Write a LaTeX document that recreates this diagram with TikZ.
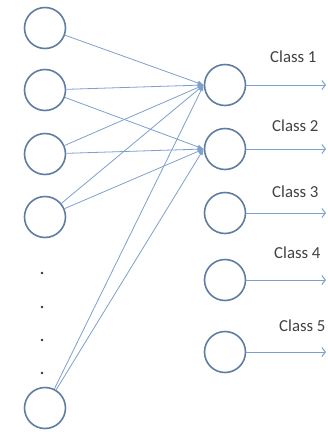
\documentclass[tikz,border=0pt]{standalone}
\usepackage{fontspec}
\setmainfont{Carlito}
\usepackage{tikz}
\definecolor{ringblue}{RGB}{95,125,160}
\definecolor{wireblue}{RGB}{125,160,205}
\definecolor{textgray}{RGB}{65,65,65}
\usetikzlibrary{arrows, arrows.meta}
\tikzstyle{neuron}=[circle, draw=ringblue, line width=1.6pt, fill=white, minimum size=41pt, inner sep=0pt]
\tikzstyle{wire}=[draw=wireblue, line width=0.8pt, -{Latex[length=6pt,width=5pt]}]
\tikzstyle{outwire}=[draw=wireblue, line width=1pt, -{Straight Barb[length=3.5pt,width=9pt]}]
\tikzstyle{classlabel}=[anchor=west, text=textgray, font=\fontsize{16.8}{20}\selectfont, inner sep=0pt]

\begin{document}
\begin{tikzpicture}[x=1pt, y=-1pt]
					\useasboundingbox (0,0) rectangle (328,432);
					% inputs
					\node[neuron] (i1) at (45,28) {};
					\node[neuron] (i2) at (45,90) {};
					\node[neuron] (i3) at (45,154) {};
					\node[neuron] (i4) at (45,217) {};
					\node[neuron] (i5) at (45,408) {};
					\foreach \y in {273,307,340,373}
						\fill[black!80] (42,\y) circle (1.3pt);
					% outputs
					\node[neuron] (o1) at (225,85) {};
					\node[neuron] (o2) at (225,149) {};
					\node[neuron] (o3) at (225,213) {};
					\node[neuron] (o4) at (225,280) {};
					\node[neuron] (o5) at (225,352) {};
					\path[wire] (i1) -- (o1.west);
					\foreach \i in {i2,i3,i4,i5} {
						\path[wire] (\i) -- (o1.west);
						\path[wire] (\i) -- (o2.west);
					}
					% class arrows
					\foreach \n/\y in {1/85,2/149,3/213,4/280,5/352}
						\coordinate (e\n) at (326,\y);
					\foreach \n in {1,...,5}
						\path[outwire] (o\n) -- (e\n);
					\node[classlabel] (c1) at (270,57) {Class 1};
					\node[classlabel] (c2) at (272,126) {Class 2};
					\node[classlabel] (c3) at (272,192) {Class 3};
					\node[classlabel] (c4) at (274,253) {Class 4};
					\node[classlabel] (c5) at (279,326) {Class 5};
				\end{tikzpicture}
\end{document}
